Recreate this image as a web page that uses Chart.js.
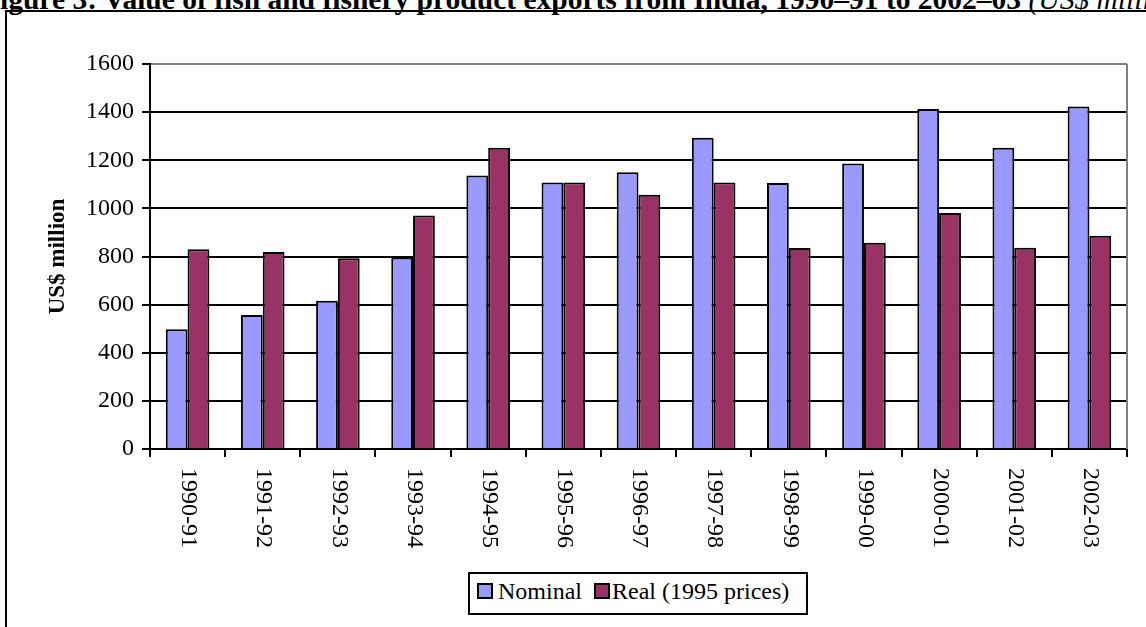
<!DOCTYPE html>
<html>
<head>
<meta charset="utf-8">
<script src="https://cdn.jsdelivr.net/npm/chart.js@4.4.1/dist/chart.umd.min.js"></script>
<style>
  body { margin: 0; width: 1146px; height: 627px; overflow: hidden; background: #fff; position: relative;
         font-family: "Liberation Serif", "Times New Roman", serif; color: #000; }
  #title { position: absolute; left: -18px; top: -15px; white-space: nowrap; font-weight: bold; font-size: 29.5px; line-height: 1; }
  #title i { font-weight: normal; }
  #frame { position: absolute; left: 5px; top: 10px; width: 1300px; height: 800px; border: 2px solid #000; }
  #chart { position: absolute; left: 0; top: 0; }
  #legend { position: absolute; left: 468px; top: 572px; width: 336px; height: 39px; border: 2px solid #000; background: #fff; }
  .sw { position: absolute; top: 9px; width: 16px; height: 16px; border: 2px solid #000; box-sizing: border-box; }
  .lt { position: absolute; top: 3px; font-size: 24px; line-height: 28px; white-space: nowrap; }
</style>
</head>
<body>
<div id="title">Figure 3: Value of fish and fishery product exports from India, 1990–91 to 2002–03 <i>(US$ million)</i></div>
<div id="frame"></div>
<canvas id="chart" width="1146" height="627"></canvas>
<div id="legend"></div>
<script>
// years on the x axis
const categories = ['1990-91', '1991-92', '1992-93', '1993-94', '1994-95', '1995-96', '1996-97',
                    '1997-98', '1998-99', '1999-00', '2000-01', '2001-02', '2002-03'];
// US$ million
const nominal = [498, 557, 616, 796, 1137, 1108, 1150, 1294, 1105, 1186, 1413, 1252, 1423];
const real = [830, 819, 793, 970, 1252, 1108, 1057, 1108, 835, 857, 981, 836, 886];
const seriesNames = ['Nominal', 'Real (1995 prices)'];
const seriesColors = ['#9999FF', '#993366'];
const yTicks = [0, 200, 400, 600, 800, 1000, 1200, 1400, 1600];

const serif = '"Liberation Serif", "Times New Roman", serif';

// x labels read top-to-bottom, so draw them ourselves
const xLabelPlugin = {
  id: 'xLabels',
  afterDraw(chart) {
    const ctx = chart.ctx;
    const xs = chart.scales.x;
    const area = chart.chartArea;
    ctx.save();
    ctx.font = '24px ' + serif;
    ctx.fillStyle = '#000';
    ctx.textAlign = 'left';
    ctx.textBaseline = 'middle';
    categories.forEach((lab, i) => {
      ctx.save();
      ctx.translate(xs.getPixelForValue(i) + 1, area.bottom + 19);
      ctx.rotate(Math.PI / 2);
      ctx.fillText(lab, 0, 0);
      ctx.restore();
    });
    // grey right edge of the plot
    ctx.strokeStyle = '#808080';
    ctx.lineWidth = 2;
    ctx.beginPath();
    ctx.moveTo(area.right, area.top);
    ctx.lineTo(area.right, area.bottom);
    ctx.stroke();
    ctx.restore();
  }
};

const chart = new Chart(document.getElementById('chart').getContext('2d'), {
  type: 'bar',
  data: {
    labels: categories,
    datasets: [
      { label: seriesNames[0], data: nominal, backgroundColor: seriesColors[0], borderColor: '#000', borderWidth: 2 },
      { label: seriesNames[1], data: real, backgroundColor: seriesColors[1], borderColor: '#000', borderWidth: 2 }
    ]
  },
  options: {
    responsive: false,
    animation: false,
    categoryPercentage: 0.58,
    barPercentage: 1,
    layout: { padding: { left: 0, right: 19, top: 64, bottom: 0 } },
    plugins: {
      legend: { display: false },
      tooltip: { enabled: false }
    },
    scales: {
      x: {
        grid: { drawOnChartArea: false, drawTicks: true, tickLength: 8, color: '#000', lineWidth: 2 },
        border: { color: '#000', width: 2 },
        ticks: { display: false },
        afterFit(scale) { scale.height = 178; }
      },
      y: {
        min: 0,
        max: 1600,
        afterBuildTicks(scale) { scale.ticks = yTicks.map(v => ({ value: v })); },
        grid: {
          color: c => (c.tick && c.tick.value === 1600 ? '#808080' : '#000'),
          tickColor: '#000',
          lineWidth: 2,
          tickLength: 8
        },
        border: { color: '#000', width: 2 },
        ticks: { color: '#000', font: { family: serif, size: 24 }, padding: 8, callback: v => String(v) },
        title: {
          display: true,
          text: 'US$ million',
          color: '#000',
          font: { family: serif, size: 23, weight: 'bold' },
          padding: { top: 44, bottom: 0 }
        },
        afterFit(scale) { scale.width = 150; }
      }
    }
  },
  plugins: [xLabelPlugin]
});

// boxed legend built from the series lists
const legend = document.getElementById('legend');
const swX = [7, 124];
const txX = [28, 142];
seriesNames.forEach((name, i) => {
  const sw = document.createElement('div');
  sw.className = 'sw';
  sw.style.left = swX[i] + 'px';
  sw.style.background = seriesColors[i];
  legend.appendChild(sw);
  const t = document.createElement('div');
  t.className = 'lt';
  t.style.left = txX[i] + 'px';
  t.textContent = name;
  legend.appendChild(t);
});
</script>
</body>
</html>
